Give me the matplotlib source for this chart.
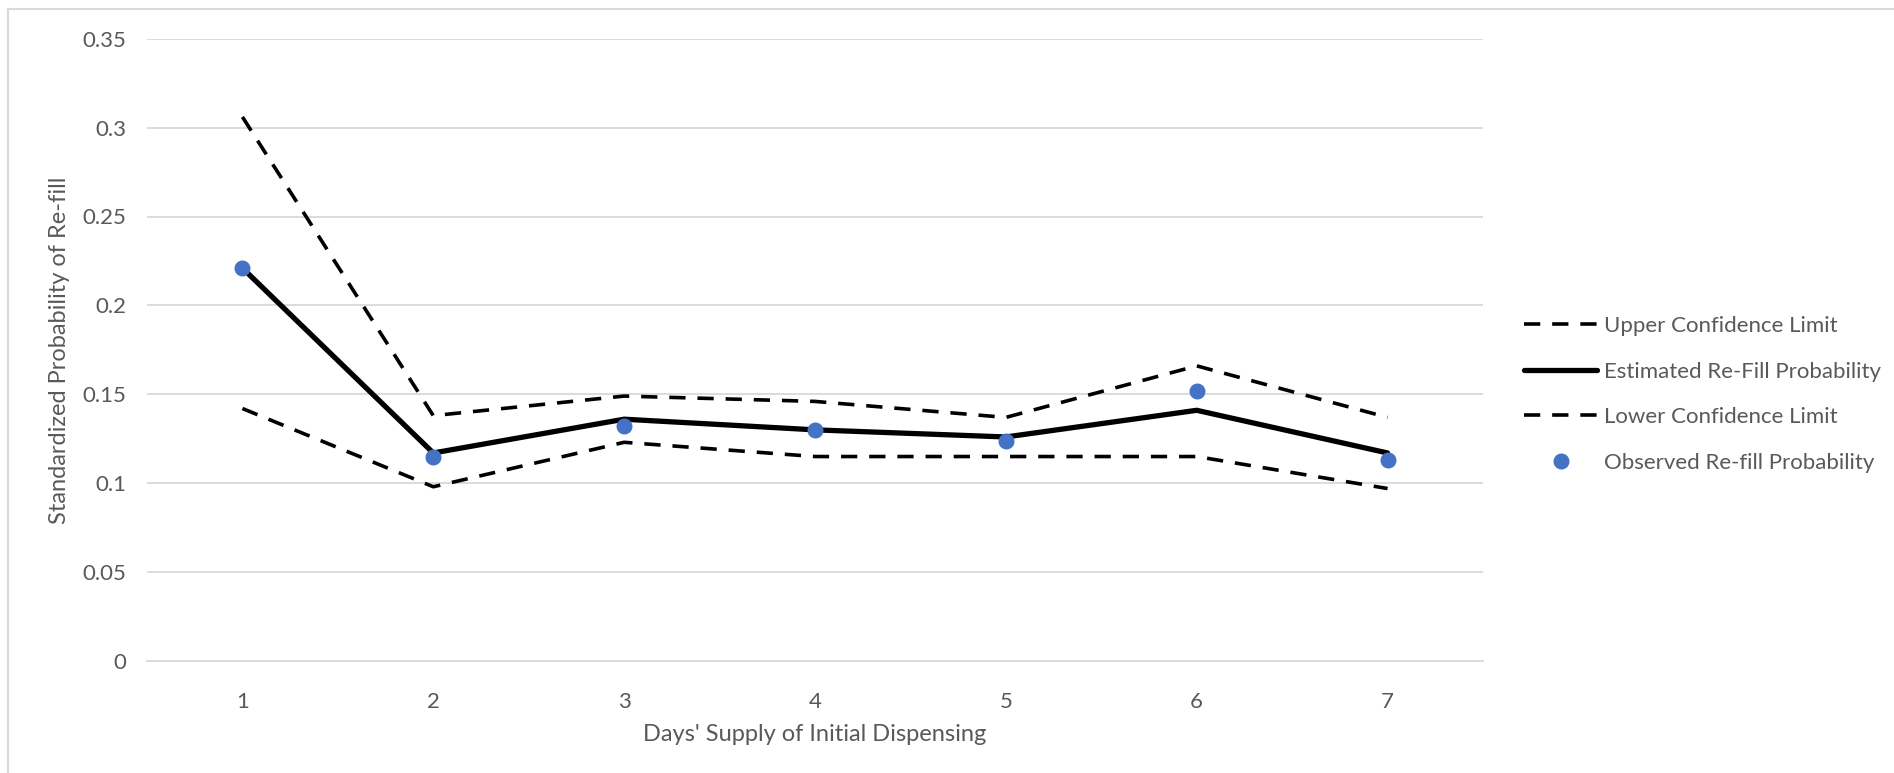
import matplotlib.pyplot as plt
from matplotlib.lines import Line2D

plt.rcParams['font.family'] = ['Lato', 'DejaVu Sans']

# data
days = [1, 2, 3, 4, 5, 6, 7]
upper = [0.306, 0.138, 0.149, 0.146, 0.137, 0.166, 0.137]
estimated = [0.221, 0.117, 0.136, 0.130, 0.126, 0.141, 0.117]
lower = [0.142, 0.098, 0.123, 0.115, 0.115, 0.115, 0.097]
observed = [0.221, 0.115, 0.132, 0.130, 0.124, 0.152, 0.113]

y_ticks = [0, 0.05, 0.1, 0.15, 0.2, 0.25, 0.3, 0.35]
y_tick_labels = ['0', '0.05', '0.1', '0.15', '0.2', '0.25', '0.3', '0.35']

labels = ['Upper Confidence Limit', 'Estimated Re-Fill Probability',
          'Lower Confidence Limit', 'Observed Re-fill Probability']

text_col = '#595959'
grid_col = '#D9D9D9'
dot_col = '#4472C4'
dash = (0, (4.5, 3.3))
dash_lw = 2.6

fig = plt.figure(figsize=(18.94, 7.73), dpi=100)
ax = fig.add_axes([147 / 1894, 1 - 661 / 773, (1483 - 147) / 1894, (661 - 38.7) / 773])

# chart border (top and left edges visible)
fig.add_artist(Line2D([8 / 1894, 1], [1 - 9 / 773, 1 - 9 / 773], color=grid_col, lw=1.5))
fig.add_artist(Line2D([8 / 1894, 8 / 1894], [0, 1 - 9 / 773], color=grid_col, lw=1.5))

ax.plot(days, upper, color='black', lw=dash_lw, linestyle=dash, zorder=3)
ax.plot(days, estimated, color='black', lw=3.8, solid_capstyle='round', zorder=3)
ax.plot(days, lower, color='black', lw=dash_lw, linestyle=dash, zorder=3)
ax.plot(days, observed, linestyle='none', marker='o', ms=10.5, color=dot_col, zorder=4)

ax.set_xlim(0.5, 7.5)
ax.set_ylim(0, 0.35)
ax.set_yticks(y_ticks)
ax.set_yticklabels(y_tick_labels)
ax.set_xticks(days)
ax.set_xticklabels([str(d) for d in days])
ax.grid(axis='y', color=grid_col, lw=1.3)
ax.set_axisbelow(True)
for s in ax.spines.values():
    s.set_visible(False)
ax.spines['bottom'].set_visible(True)
ax.spines['bottom'].set_color(grid_col)
ax.spines['bottom'].set_linewidth(1.3)
ax.tick_params(length=0, labelsize=16, labelcolor=text_col)
ax.tick_params(axis='y', pad=15)
ax.tick_params(axis='x', pad=22)

ax.set_ylabel('Standardized Probability of Re-fill', fontsize=17, color=text_col, labelpad=9)
ax.set_xlabel("Days' Supply of Initial Dispensing", fontsize=17, color=text_col, labelpad=9)

handles = [
    Line2D([], [], color='black', lw=dash_lw, linestyle=dash),
    Line2D([], [], color='black', lw=3.8, solid_capstyle='round'),
    Line2D([], [], color='black', lw=dash_lw, linestyle=dash),
    Line2D([], [], linestyle='none', marker='o', ms=10.5, color=dot_col),
]
leg = fig.legend(handles, labels, loc='upper left', bbox_to_anchor=(1504 / 1894, 1 - 296 / 773),
                 frameon=False, fontsize=16, handlelength=3.3, handletextpad=0.3,
                 labelspacing=1.15, labelcolor=text_col)

fig.savefig('out.png', dpi=100)
